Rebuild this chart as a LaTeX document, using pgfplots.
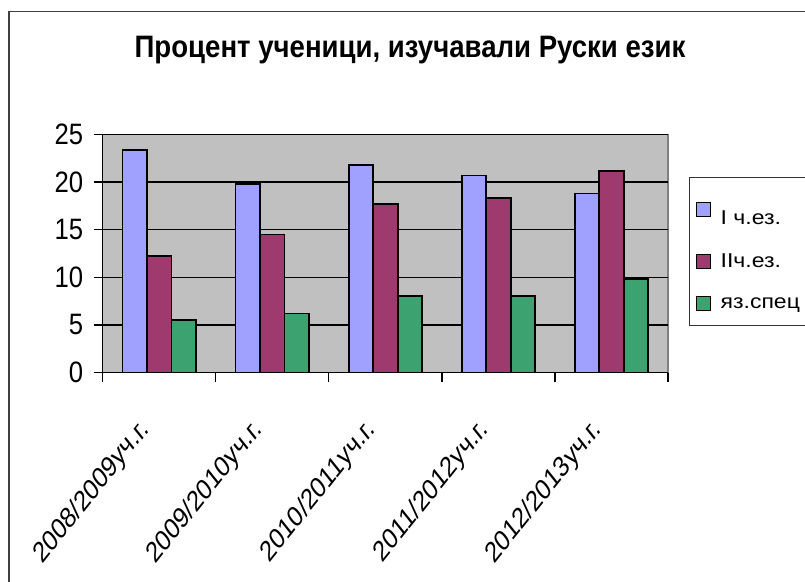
\documentclass[border=0pt]{standalone}
\usepackage{fontspec}
\setmainfont{Liberation Sans}
\usepackage{graphicx}
\usepackage{pgfplots}
\pgfplotsset{compat=1.18}
\definecolor{barblue}{RGB}{160,160,255}
\definecolor{barred}{RGB}{158,58,110}
\definecolor{bargreen}{RGB}{60,162,112}
\definecolor{plotgray}{RGB}{192,192,192}
\newcommand\sq[1]{\scalebox{0.87}[1]{#1}}
\newcommand\xl[1]{\scalebox{0.80}[1]{\rotatebox{45}{#1}}}
\newcommand\lgd[1]{\hspace*{8pt}\scalebox{1.15}[1]{#1}}
\begin{document}
\begin{tikzpicture}[x=1pt,y=1pt]
\path[use as bounding box] (0,0) rectangle (805,581);
\draw[line width=1.3pt, black!75] (9,-5) -- (9,569.5) -- (810,569.5);
\node[anchor=base, inner sep=0pt, font=\fontsize{31}{34}\selectfont\bfseries] at (410,523.6) {\scalebox{0.89}[1]{Процент ученици, изучавали Руски език}};
\begin{axis}[
 at={(102.7pt,208.5pt)}, anchor=south west,
 scale only axis, width=565.3pt, height=238pt,
 xmin=-0.5, xmax=4.5, ymin=0, ymax=25,
 ybar=0pt, bar width=24.5pt,
 axis line style={draw=none},
 axis background/.style={fill=plotgray, draw=black!50, line width=1.3pt},
 ymajorgrids, major grid style={black, line width=1.3pt},
 ytick={0,5,...,25}, yticklabels={\sq{0},\sq{5},\sq{10},\sq{15},\sq{20},\sq{25}},
 xtick={0,...,4},
 xticklabels={\xl{2008/2009уч.г.},\xl{2009/2010уч.г.},\xl{2010/2011уч.г.},\xl{2011/2012уч.г.},\xl{2012/2013уч.г.}},
 minor xtick={-0.5,0.5,...,4.5},
 tick align=outside, tick pos=left,
 major tick length=9pt, minor tick length=9pt,
 tick style={black, line width=1.3pt},
 every major x tick/.append style={draw=none},
 yticklabel style={font=\fontsize{29.5}{32}\selectfont, inner sep=0pt, xshift=-10.4pt},
 xticklabel style={font=\fontsize{29}{32}\selectfont, inner sep=0pt, anchor=north east, xshift=-6pt, yshift=-34pt},
 legend style={at={(1.0372,0.8214)}, anchor=north west, draw=black!80, line width=1.2pt, fill=white,
   font=\fontsize{20}{22}\selectfont, row sep=24.5pt, inner xsep=6pt, inner ysep=13pt},
 legend cell align=left,
 legend image code/.code={\draw[#1, line width=1pt] (0pt,-7pt) rectangle (14pt,7pt);},
 after end axis/.code={\draw[black, line width=1.5pt] (rel axis cs:0,1) -- (rel axis cs:0,0) -- (rel axis cs:1,0);},
]
\addplot[fill=barblue, draw=black, line width=1.8pt] coordinates {(0,23.4) (1,19.8) (2,21.8) (3,20.7) (4,18.8)};
\addplot[fill=barred, draw=black, line width=1.8pt] coordinates {(0,12.2) (1,14.5) (2,17.7) (3,18.3) (4,21.2)};
\addplot[fill=bargreen, draw=black, line width=1.8pt] coordinates {(0,5.5) (1,6.2) (2,8.0) (3,8.0) (4,9.8)};
\legend{\lgd{\rule{0pt}{31.5pt}I ч.ез.},\lgd{IIч.ез.},\lgd{яз.спец}\hspace{20pt}}
\end{axis}
\end{tikzpicture}
\end{document}
